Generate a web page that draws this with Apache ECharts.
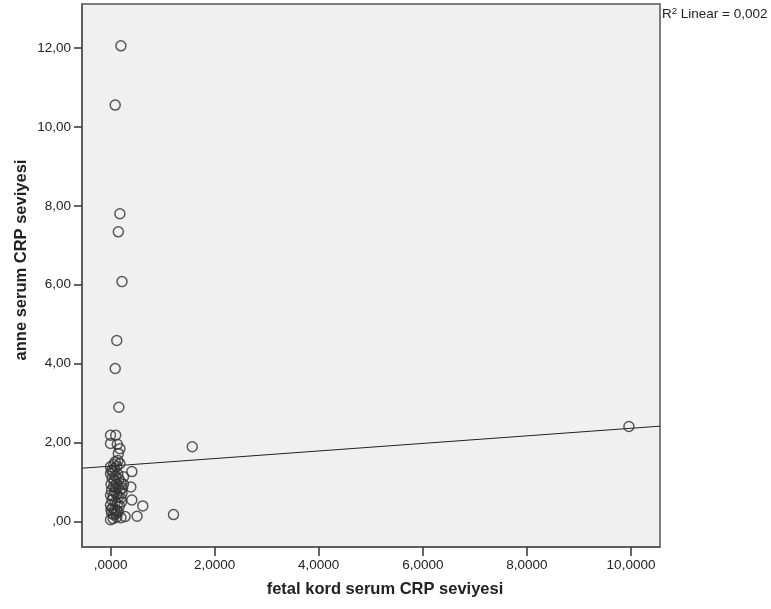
<!DOCTYPE html>
<html>
<head>
<meta charset="utf-8">
<script src="https://cdn.jsdelivr.net/npm/echarts@6/dist/echarts.min.js"></script>
<style>html,body{margin:0;padding:0;background:#fff}#c{width:771px;height:609px}</style>
</head>
<body>
<div id="c"></div>
<script>
// fetal kord serum CRP (x), anne serum CRP (y)
const fetalCRP = [
  0.20,0.09,0.18,0.15,0.22,0.12,0.09,0.16,1.57,9.96,1.21,0.62,0.51,
  0.00,0.10,0.00,0.13,0.18,0.15,0.09,0.18,0.00,0.41,0.00,0.25,0.39,0.41,0.00,0.00,0.00,0.12,0.28,0.23,0.21,
  0.02,0.05,0.08,0.12,0.14,0.03,0.07,0.10,0.16,0.20,0.01,0.06,0.11,0.15,0.18,0.02,0.08,0.12,0.05,0.15,
  0.20,0.03,0.09,0.13,0.17,0.04,0.08,0.12,0.02,0.06,0.10,0.15,0.05,0.20,0.14,0.06,0.22,0.25,0.01,0.10
];
const anneCRP = [
  12.05,10.55,7.80,7.34,6.08,4.59,3.88,2.90,1.90,2.41,0.18,0.40,0.14,
  2.19,2.19,1.98,1.96,1.85,1.73,1.52,1.47,1.39,1.27,1.22,1.14,0.88,0.55,0.67,0.42,0.05,0.12,0.13,0.85,0.50,
  1.30,1.25,1.35,1.40,1.20,1.10,1.05,1.15,1.08,1.00,0.95,0.90,0.95,0.88,0.80,0.80,0.75,0.70,0.65,0.62,
  0.60,0.55,0.50,0.45,0.40,0.35,0.30,0.28,0.22,0.18,0.20,0.25,0.08,0.10,1.55,1.45,0.72,0.95,0.30,0.85
];
// linear fit (intercept, slope) as drawn in the reference
const fitCoef = [1.408, 0.0958];
const xRange = [-0.548, 10.557];
const yRange = [-0.64, 13.11];
const xTicks = [0, 2, 4, 6, 8, 10];
const yTicks = [0, 2, 4, 6, 8, 10, 12];
const xTitle = 'fetal kord serum CRP seviyesi';
const yTitle = 'anne serum CRP seviyesi';

const points = fetalCRP.map((v, i) => [v, anneCRP[i]]);
const fitLine = xRange.map(x => [x, fitCoef[0] + fitCoef[1] * x]);

function fmt(v, d) {
  let s = v.toFixed(d).replace('.', ',');
  if (s.startsWith('0,')) s = s.slice(1);
  return s;
}

const chart = echarts.init(document.getElementById('c'), null, {renderer: 'canvas'});
const font = '"Liberation Sans", Arial, sans-serif';
const tickFont = 13.5;
chart.setOption({
  backgroundColor: '#ffffff',
  animation: false,
  grid: {
    left: 82, top: 4, right: 111, bottom: 62,
    show: true, backgroundColor: '#f0f0f0', borderColor: '#555555', borderWidth: 1.5
  },
  xAxis: {
    type: 'value', min: xRange[0], max: xRange[1],
    splitLine: {show: false},
    axisLine: {show: true, onZero: false, lineStyle: {color: '#555555', width: 1.5}},
    axisTick: {show: true, inside: false, length: 9, lineStyle: {color: '#333333', width: 1.5}, customValues: xTicks},
    axisLabel: {show: true, customValues: xTicks, formatter: v => fmt(v, 4), color: '#222', fontSize: tickFont, fontFamily: font, margin: 11}
  },
  yAxis: {
    type: 'value', min: yRange[0], max: yRange[1],
    splitLine: {show: false},
    axisLine: {show: true, onZero: false, lineStyle: {color: '#555555', width: 1.5}},
    axisTick: {show: true, inside: false, length: 8, lineStyle: {color: '#333333', width: 1.5}, customValues: yTicks},
    axisLabel: {show: true, customValues: yTicks, formatter: v => fmt(v, 2), color: '#222', fontSize: tickFont, fontFamily: font, margin: 11}
  },
  series: [
    {
      type: 'line', data: fitLine, symbol: 'none', silent: true,
      lineStyle: {color: '#222222', width: 1}, z: 1
    },
    {
      type: 'scatter', data: points, symbol: 'circle', symbolSize: 10,
      itemStyle: {color: 'rgba(0,0,0,0)', borderColor: '#333333', borderWidth: 1.5}, z: 2
    }
  ],
  graphic: [
    {
      type: 'text', x: 662, y: 6,
      style: {
        text: '{a|R}{s|2}{a| Linear = 0,002}',
        rich: {
          a: {fontSize: tickFont, fontFamily: font, fill: '#222', color: '#222'},
          s: {fontSize: 9.5, fontFamily: font, fill: '#222', color: '#222', verticalAlign: 'top', padding: [0,0,7,0]}
        }
      }
    },
    {
      type: 'text', x: 385, y: 589,
      style: {text: xTitle, font: 'bold 16.5px ' + font, fill: '#222', align: 'center', verticalAlign: 'middle'}
    },
    {
      type: 'text', x: 21, y: 260, rotation: Math.PI / 2,
      style: {text: yTitle, font: 'bold 16.5px ' + font, fill: '#222', align: 'center', verticalAlign: 'middle'}
    }
  ]
});
</script>
</body>
</html>
